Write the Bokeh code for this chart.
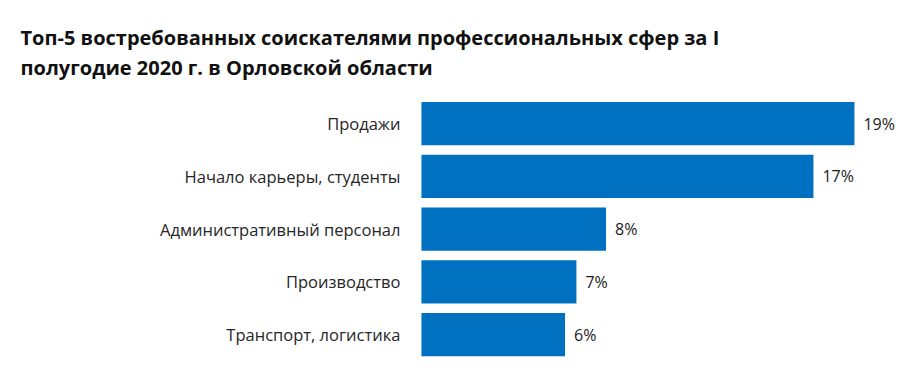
from bokeh.plotting import figure
from bokeh.models import ColumnDataSource, Range1d, Label
from bokeh.core.properties import value
from bokeh.embed import file_html
from bokeh.resources import INLINE

categories = ["Продажи", "Начало карьеры, студенты", "Административный персонал",
              "Производство", "Транспорт, логистика"]
values = [19.0, 17.2, 8.1, 6.8, 6.3]
labels = ["19%", "17%", "8%", "7%", "6%"]
title_lines = ["Топ-5 востребованных соискателями профессиональных сфер за I",
               "полугодие 2020 г. в Орловской области"]

BAR = "#0070C0"
FONT = "Open Sans"

ypos = [-i for i in range(len(categories))]
src = ColumnDataSource(dict(cat=categories, y=ypos, val=values, lab=labels))

p = figure(width=900, height=378, output_backend="svg", toolbar_location=None,
           x_range=Range1d(-18.47, 21.02), y_range=Range1d(-4.834, 2.332),
           min_border=0)
p.outline_line_color = None
p.grid.visible = False
p.axis.visible = False
p.background_fill_color = "white"
p.border_fill_color = "white"

p.hbar(y="y", right="val", left=0, height=0.82, source=src, color=BAR, line_color=None)
p.text(x="val", y="y", text="lab", source=src, x_offset=9, text_align="left",
       text_baseline="middle", text_font=value(FONT), text_font_size="16px", text_color="#1a1a1a")
p.text(x=0, y="y", text="cat", source=src, x_offset=-21, text_align="right",
       text_baseline="middle", text_font=value(FONT), text_font_size="16.5px", text_color="#262626")

for i, t in enumerate(title_lines):
    p.add_layout(Label(x=20, y=341 - 30 * i, x_units="screen", y_units="screen", text=t,
                       text_font=FONT, text_font_style="bold", text_font_size="20px",
                       text_color="#111111", text_baseline="alphabetic", text_align="left"))

open("out.html", "w").write(file_html(p, INLINE))
